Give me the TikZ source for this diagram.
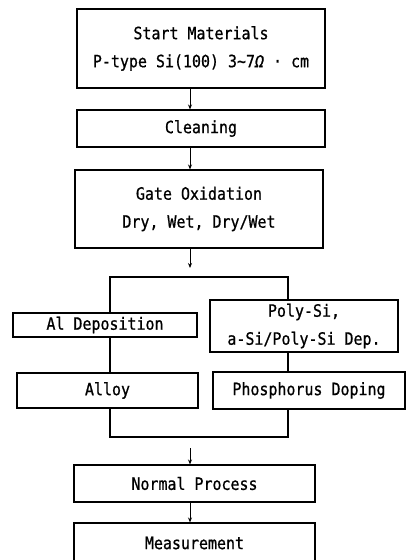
\documentclass[tikz,border=0pt]{standalone}
\usepackage{fontspec}
\newfontfamily\mono[FakeStretch=0.88,FakeBold=0.8]{DejaVu Sans Mono}
\usetikzlibrary{arrows.meta}
\begin{document}
\begin{tikzpicture}[x=1pt,y=-1pt,
  box/.style={draw, line width=1.1pt, inner sep=0pt, align=center,
    font=\mono\fontsize{17}{28}\selectfont},
  link/.style={line width=1.1pt},
  arr/.style={line width=1pt, -{Stealth[length=5pt,width=4pt]}}]
\useasboundingbox (0,0) rectangle (406,560);
\clip (0,0) rectangle (406,560);
\coordinate (ax) at (190,0);
\coordinate (lx) at (110,0);
\coordinate (rx) at (288,0);
\node[box, minimum width=248pt, minimum height=79pt] (start) at (201,48.5)
  {Start Materials\\P-type Si(100) 3\textasciitilde7{\itshape Ω} · cm};
\node[box, minimum width=248pt, minimum height=37pt] (clean) at (201,128.5) {Cleaning};
\node[box, minimum width=248pt, minimum height=78pt] (gate) at (199,209)
  {Gate Oxidation\\Dry, Wet, Dry/Wet};
\coordinate (split) at (190,268);
\node[box, minimum width=184pt, minimum height=24pt] (al) at (105,325) {Al Deposition};
\node[box, minimum width=188pt, minimum height=52pt] (poly) at (304,326)
  {Poly-Si,\\a-Si/Poly-Si Dep.};
\node[box, minimum width=181pt, minimum height=35pt] (alloy) at (107.5,390.5) {Alloy};
\node[box, minimum width=192pt, minimum height=37pt] (phos) at (309,390.5) {Phosphorus Doping};
\coordinate (topbar) at (0,277);
\coordinate (botbar) at (0,437);
\coordinate (merge) at (190,448);
\node[box, minimum width=241pt, minimum height=37pt] (normal) at (194.5,483.5) {Normal Process};
\node[box, minimum width=241pt, minimum height=40pt] (meas) at (194.5,543) {Measurement};
% arrows
\draw[arr] (start.south -| ax) -- (clean.north -| ax);
\draw[arr] (clean.south -| ax) -- (gate.north -| ax);
\draw[arr] (gate.south -| ax) -- (split);
\draw[arr] (merge) -- (normal.north -| ax);
\draw[arr] (normal.south -| ax) -- (meas.north -| ax);
% brackets
\draw[link] (al.north -| lx) -- (topbar -| lx) -- (topbar -| rx) -- (poly.north -| rx);
\draw[link] (al.south -| lx) -- (alloy.north -| lx);
\draw[link] (poly.south -| rx) -- (phos.north -| rx);
\draw[link] (alloy.south -| lx) -- (botbar -| lx) -- (botbar -| rx) -- (phos.south -| rx);
\end{tikzpicture}
\end{document}
